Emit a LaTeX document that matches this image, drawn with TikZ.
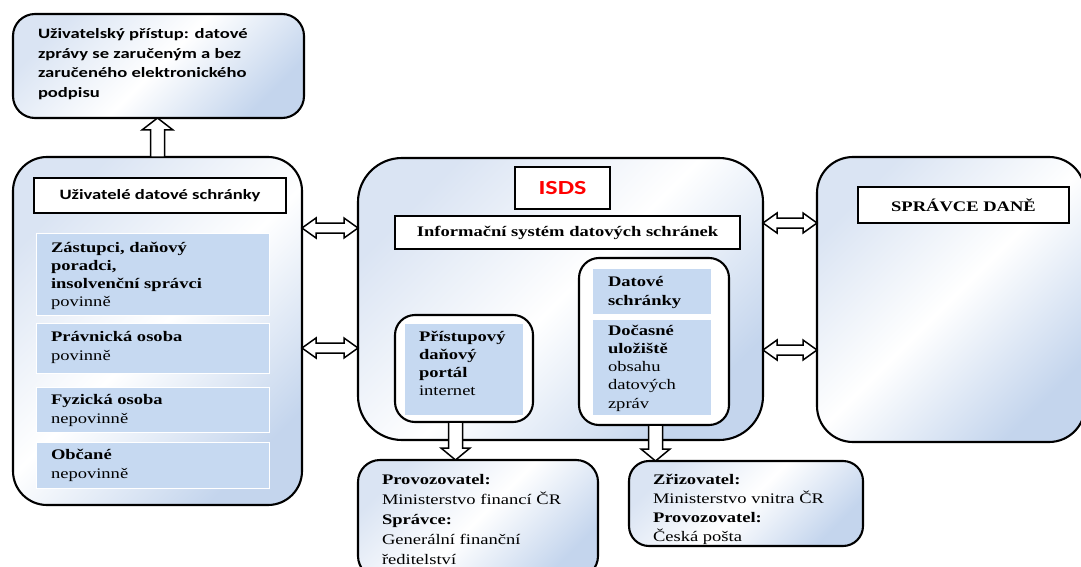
\documentclass[tikz,border=0pt]{standalone}
\usepackage{fontspec}
\setmainfont{Liberation Serif}[FakeStretch=1.27]
\newfontfamily\sansf{Carlito}[FakeStretch=1.3]
\usetikzlibrary{calc}
\definecolor{bluefill}{RGB}{198,217,241}
\definecolor{gradA}{RGB}{218,228,243}
\definecolor{gradB}{RGB}{196,213,237}
\definecolor{isdsred}{RGB}{255,0,0}
\tikzset{
  bigbox/.style={draw=black, line width=2.1pt, rounded corners=#1, top color=gradA, bottom color=gradB, middle color=white, shading angle=45, anchor=north west, outer sep=0pt, inner sep=0pt},
  grpbox/.style={draw=black, line width=2.1pt, rounded corners=#1, fill=white, anchor=north west, outer sep=0pt, inner sep=0pt},
  whitebox/.style={draw=black, line width=1.6pt, fill=white, anchor=north west, outer sep=0pt, inner sep=0pt},
  bluebox/.style={draw=white, line width=0.8pt, fill=bluefill, anchor=north west, outer sep=0pt, inner sep=0pt},
  blk/.style={draw=black, line width=1.5pt, fill=white, line join=miter},
  txt/.style={anchor=base west, inner sep=0pt, outer sep=0pt},
  serifbox/.style={font=\fontsize{14.6}{#1}\selectfont},
  sansbox/.style={font=\sansf\bfseries\fontsize{14.3}{#1}\selectfont},
}
\newcommand\lns[1]{\parbox[t]{300pt}{#1}}
\begin{document}
\begin{tikzpicture}[x=1pt,y=-1pt]
\useasboundingbox (0,0) rectangle (1081,567);

% ---- boxes ----
\node[bigbox=22pt, minimum width=291pt, minimum height=104pt] (top) at (13,14) {};
\node[bigbox=34pt, minimum width=289pt, minimum height=348pt] (L) at (13,157) {};
\node[bigbox=44pt, minimum width=405pt, minimum height=282pt] (C) at (358,158) {};
\node[bigbox=36pt, minimum width=268pt, minimum height=285pt] (R) at (817,157) {};
\node[bigbox=22pt, minimum width=240pt, minimum height=118pt] (BL) at (358,460) {};
\node[bigbox=20pt, minimum width=234pt, minimum height=85pt] (BR) at (629,461) {};

% left contents
\node[whitebox, minimum width=252pt, minimum height=35pt, sansbox=16] (ud) at (34,178) {Uživatelé datové schránky};
\node[bluebox, minimum width=233pt, minimum height=82pt] (b1) at (36,233) {};
\node[bluebox, minimum width=233pt, minimum height=50pt] (b2) at (36,323) {};
\node[bluebox, minimum width=233pt, minimum height=45pt] (b3) at (36,387) {};
\node[bluebox, minimum width=233pt, minimum height=46pt] (b4) at (36,442) {};

% center contents
\node[whitebox, minimum width=95pt, minimum height=42pt, font=\sansf\bfseries\fontsize{20}{24}\selectfont, text=isdsred] (isds) at (515,167) {ISDS};
\node[whitebox, minimum width=345pt, minimum height=33pt, serifbox=16] (info) at (395,216) {\textbf{Informační systém datových schránek}};
\node[grpbox=20pt, minimum width=150pt, minimum height=167pt] (G) at (579,258) {};
\node[bluebox, minimum width=119pt, minimum height=46pt] (ds1) at (592,268) {};
\node[bluebox, minimum width=119pt, minimum height=96pt] (ds2) at (592,319) {};
\node[grpbox=20pt, minimum width=138pt, minimum height=107pt] (P) at (395,315) {};
\node[bluebox, minimum width=119pt, minimum height=92pt] (pb) at (404,323) {};

% right contents
\node[whitebox, minimum width=211pt, minimum height=36pt, serifbox=16] (sd) at (858,187) {\textbf{SPRÁVCE DANĚ}};

% ---- texts ----
\node[txt, sansbox=19.5] (t0) at (38,39) {\lns{Uživatelský přístup: datové\\ zprávy se zaručeným a bez\\ zaručeného elektronického\\ podpisu}};
\node[txt, serifbox=18.2] (t1) at (51,252) {\lns{\textbf{Zástupci, daňový}\\ \textbf{poradci,}\\ \textbf{insolvenční správci}\\ povinně}};
\node[txt, serifbox=19] (t2) at (51,341) {\lns{\textbf{Právnická osoba}\\ povinně}};
\node[txt, serifbox=19] (t3) at (51,404) {\lns{\textbf{Fyzická osoba}\\ nepovinně}};
\node[txt, serifbox=19] (t4) at (51,459) {\lns{\textbf{Občané}\\ nepovinně}};

\node[txt, serifbox=19.5] (t5) at (608,286) {\lns{\textbf{Datové}\\ \textbf{schránky}}};
\begin{scope}
  \clip (592,319) rectangle (711,411);
  \node[txt, serifbox=18.3] (t6) at (608,335) {\lns{\textbf{Dočasné}\\ \textbf{uložiště}\\ obsahu\\ datových\\ zpráv}};
\end{scope}
\node[txt, serifbox=18] (t7) at (419,341) {\lns{\textbf{Přístupový}\\ \textbf{daňový}\\ \textbf{portál}\\ internet}};

\node[txt, serifbox=20.2] (t8) at (382,484) {\lns{\textbf{Provozovatel:}\\ Ministerstvo financí ČR\\ \textbf{Správce:}\\ Generální finanční\\ ředitelství}};
\node[txt, serifbox=19.3] (t9) at (653,484) {\lns{\textbf{Zřizovatel:}\\ Ministerstvo vnitra ČR\\ \textbf{Provozovatel:}\\ Česká pošta}};

% ---- block arrows ----
% up arrow L -> top
\coordinate (uA) at (L.north);
\coordinate (uB) at (top.south -| L.north);
\draw[blk] ($(uA)+(-7,0)$) -- ($(uB)+(-7,12)$) -- ($(uB)+(-15.5,12)$) -- (uB) -- ($(uB)+(15.5,12)$) -- ($(uB)+(7,12)$) -- ($(uA)+(7,0)$) -- cycle;

% down arrows
\coordinate (dx1) at (455.5,0);
\coordinate (dx2) at (655.5,0);
\coordinate (d1A) at (P.south -| dx1);
\coordinate (d1B) at (BL.north -| dx1);
\coordinate (d2A) at (G.south -| dx2);
\coordinate (d2B) at (BR.north -| dx2);
\foreach \s/\t in {d1A/d1B, d2A/d2B}{
  \draw[blk] ($(\s)+(-7,0)$) -- ($(\t)+(-7,-12)$) -- ($(\t)+(-14.5,-12)$) -- (\t) -- ($(\t)+(14.5,-12)$) -- ($(\t)+(7,-12)$) -- ($(\s)+(7,0)$) -- cycle;
}

% horizontal double arrows
\coordinate (h1) at (0,228);
\coordinate (h2) at (0,348);
\coordinate (h3) at (0,223);
\coordinate (h4) at (0,350);
\coordinate (a1) at (L.east |- h1); \coordinate (b1e) at (C.west |- h1);
\coordinate (a2) at (L.east |- h2); \coordinate (b2e) at (C.west |- h2);
\coordinate (a3) at (C.east |- h3); \coordinate (b3e) at (R.west |- h3);
\coordinate (a4) at (C.east |- h4); \coordinate (b4e) at (R.west |- h4);
\foreach \p/\q in {a1/b1e, a2/b2e, a3/b3e, a4/b4e}{
  \draw[blk] (\p) -- ($(\p)+(14,-10)$) -- ($(\p)+(14,-5)$) -- ($(\q)+(-14,-5)$) -- ($(\q)+(-14,-10)$) -- (\q) -- ($(\q)+(-14,10)$) -- ($(\q)+(-14,5)$) -- ($(\p)+(14,5)$) -- ($(\p)+(14,10)$) -- cycle;
}
\end{tikzpicture}
\end{document}
